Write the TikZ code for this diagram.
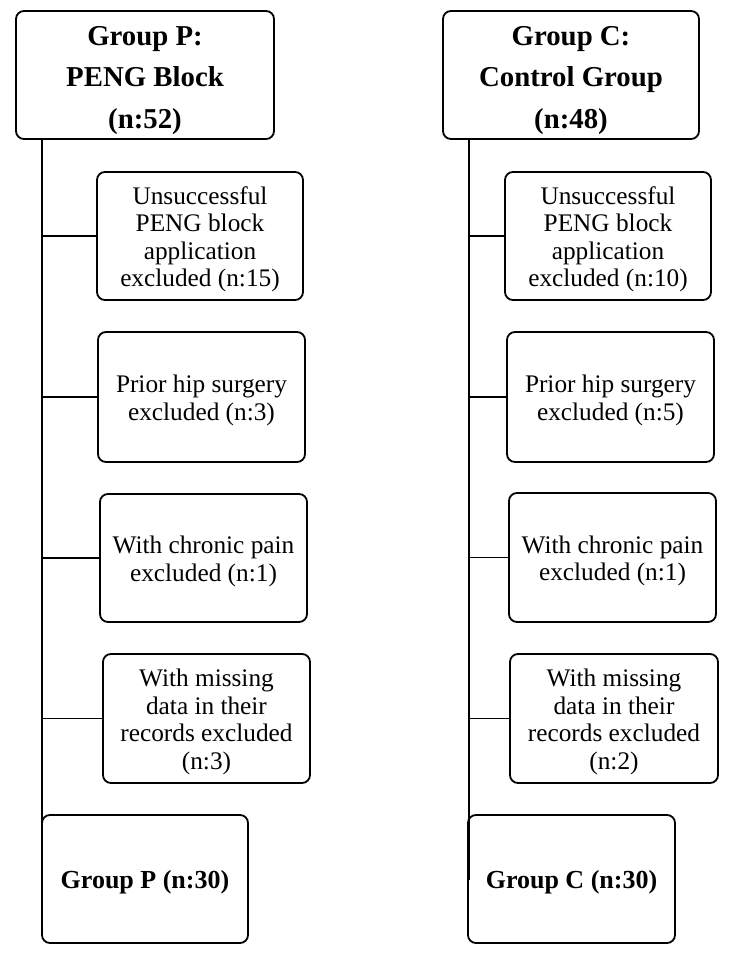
\documentclass[tikz,border=0pt]{standalone}
\usepackage{fontspec}
\setmainfont{Liberation Serif}
\newcommand{\hstr}{\rule{0pt}{30pt}}
\newcommand{\estr}{\rule{0pt}{24pt}}
\begin{document}
\begin{tikzpicture}[x=1pt,y=-1pt,
  box/.style={draw=black, line width=1.8pt, rounded corners=8pt, rectangle, inner sep=0pt, align=center},
  headbox/.style={box, font=\bfseries\fontsize{28.8}{41.5}\selectfont},
  exbox/.style={box, font=\fontsize{25.3}{27.5}\selectfont},
  finbox/.style={box, font=\bfseries\fontsize{26}{30}\selectfont},
  link/.style={draw=black, line width=1.8pt}]
\useasboundingbox (0,0) rectangle (733,961);
% Left column
\node[headbox, minimum width=258pt, minimum height=128pt] (tp) at (145,75) {\hstr Group P:\\PENG Block\\(n:52)};
\node[exbox, minimum width=206pt, minimum height=128pt] (p1) at (200,236) {\estr Unsuccessful\\PENG block\\application\\excluded (n:15)};
\node[exbox, minimum width=207pt, minimum height=130pt] (p2) at (201.5,397) {\estr Prior hip surgery\\excluded (n:3)};
\node[exbox, minimum width=207pt, minimum height=128pt] (p3) at (203.5,558) {\estr With chronic pain\\excluded (n:1)};
\node[exbox, minimum width=207pt, minimum height=129pt] (p4) at (206.5,718.5) {\estr With missing\\data in their\\records excluded\\(n:3)};
\node[finbox, minimum width=206pt, minimum height=128pt] (pf) at (145,879) {\estr Group P (n:30)};
\coordinate (pt) at (42,139);
\coordinate (pb) at (42,880);
\draw[link] (pt) -- (pb);
\draw[link] (pt |- p1.west) -- (p1.west);
\draw[link] (pt |- p2.west) -- (p2.west);
\draw[link] (pt |- p3.west) -- (p3.west);
\draw[link] (pt |- p4.west) -- (p4.west);
% Right column
\node[headbox, minimum width=256pt, minimum height=128pt] (tc) at (571,75) {\hstr Group C:\\Control Group\\(n:48)};
\node[exbox, minimum width=206pt, minimum height=128pt] (c1) at (608,236) {\estr Unsuccessful\\PENG block\\application\\excluded (n:10)};
\node[exbox, minimum width=207pt, minimum height=130pt] (c2) at (610.5,397) {\estr Prior hip surgery\\excluded (n:5)};
\node[exbox, minimum width=207pt, minimum height=129pt] (c3) at (612.5,557.5) {\estr With chronic pain\\excluded (n:1)};
\node[exbox, minimum width=208pt, minimum height=129pt] (c4) at (614,718.5) {\estr With missing\\data in their\\records excluded\\(n:2)};
\node[finbox, minimum width=207pt, minimum height=128pt] (cf) at (571.5,879) {\estr Group C (n:30)};
\coordinate (ct) at (469,139);
\coordinate (cb) at (469,880);
\draw[link] (ct) -- (cb);
\draw[link] (ct |- c1.west) -- (c1.west);
\draw[link] (ct |- c2.west) -- (c2.west);
\draw[link] (ct |- c3.west) -- (c3.west);
\draw[link] (ct |- c4.west) -- (c4.west);
\end{tikzpicture}
\end{document}
